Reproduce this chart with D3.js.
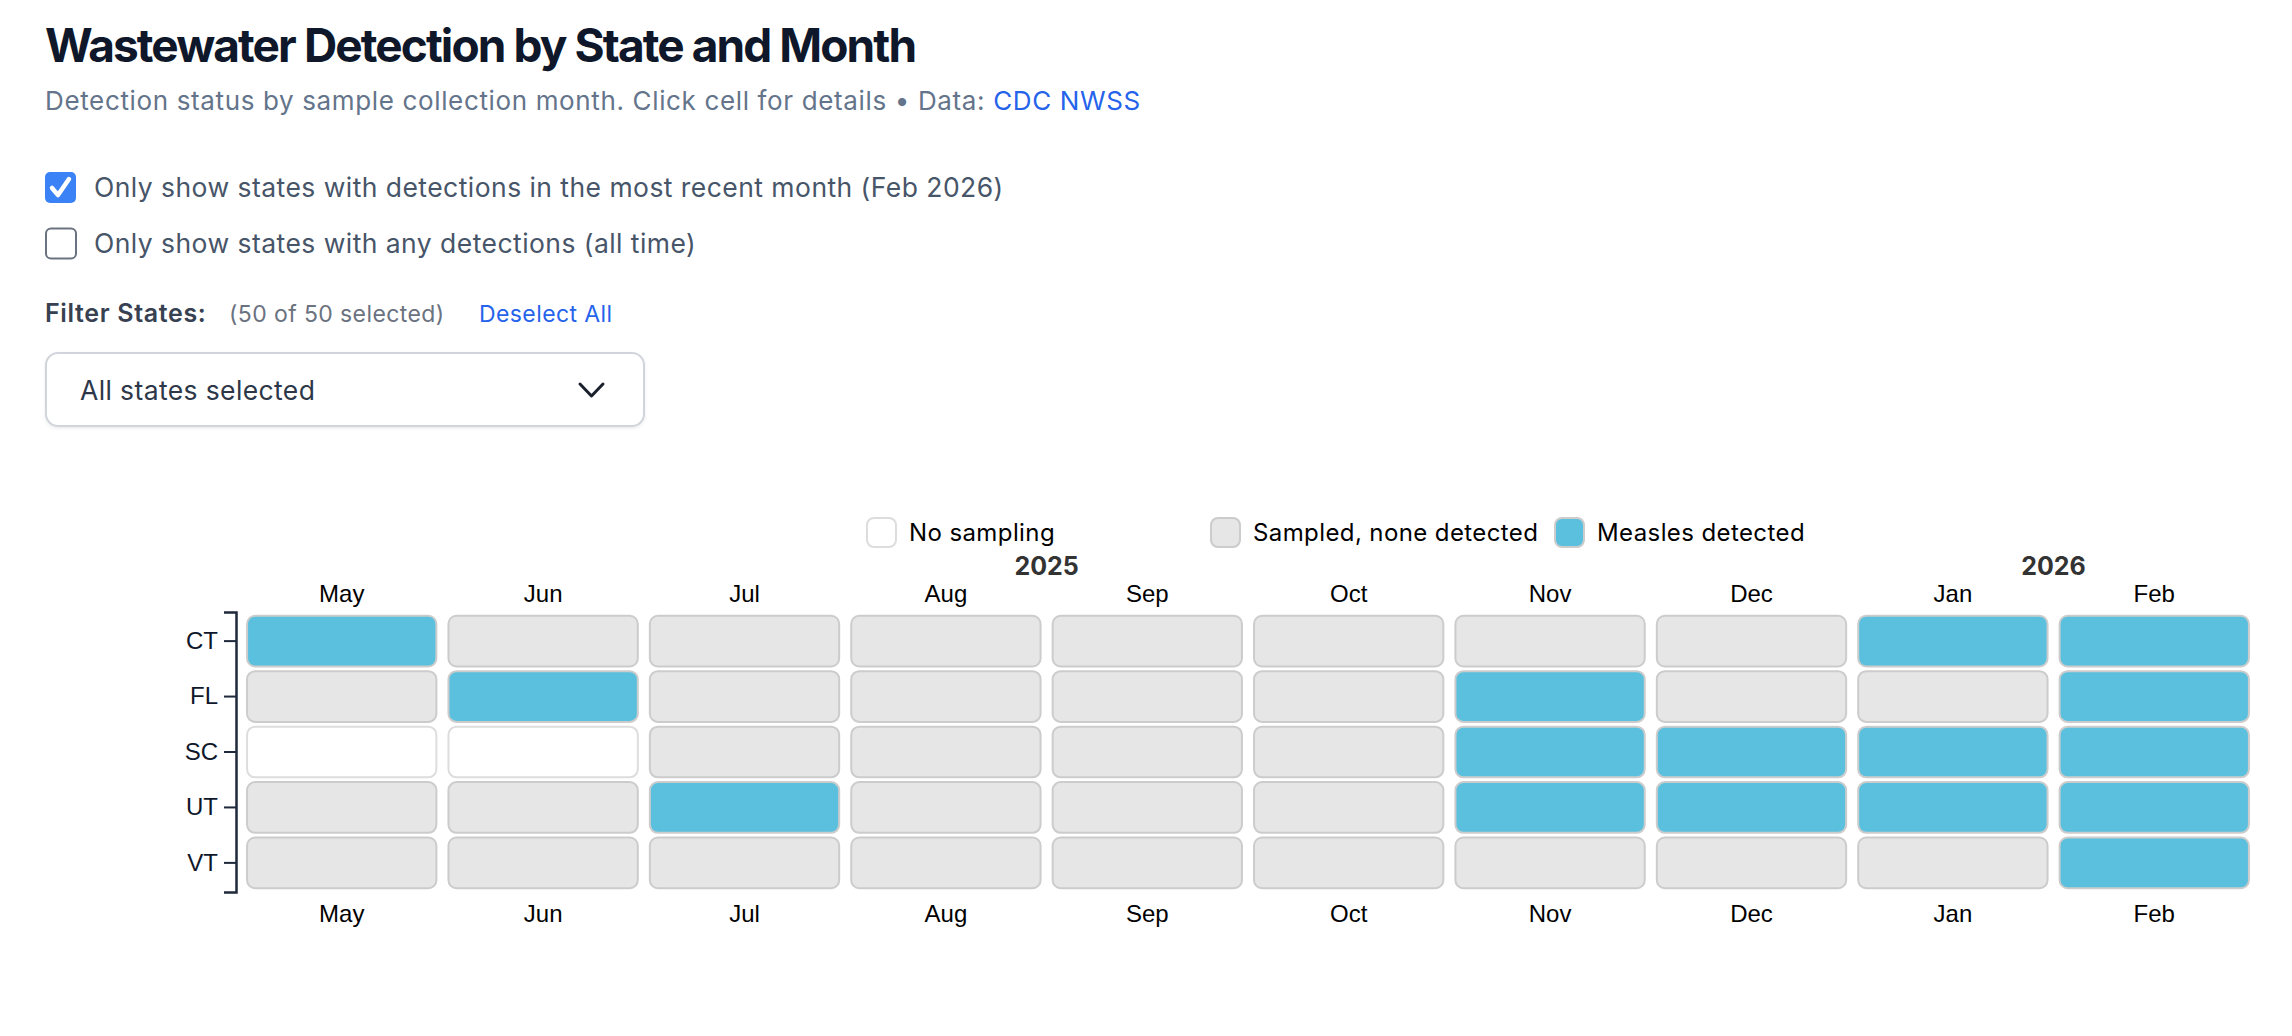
<!DOCTYPE html>
<html>
<head>
<meta charset="utf-8">
<script src="https://cdn.jsdelivr.net/npm/d3@7"></script>
<style>
  html, body { margin: 0; padding: 0; background: #ffffff; }
  svg { display: block; }
</style>
</head>
<body>
<svg id="page" width="2292" height="1036"></svg>
<script>
// ---------- data ----------
const states = ["CT", "FL", "SC", "UT", "VT"];
const months = ["May", "Jun", "Jul", "Aug", "Sep", "Oct", "Nov", "Dec", "Jan", "Feb"];
const monthYears = [2025, 2025, 2025, 2025, 2025, 2025, 2025, 2025, 2026, 2026];
// 0 = no sampling, 1 = sampled, none detected, 2 = measles detected
const statusCT = [2, 1, 1, 1, 1, 1, 1, 1, 2, 2];
const statusFL = [1, 2, 1, 1, 1, 1, 2, 1, 1, 2];
const statusSC = [0, 0, 1, 1, 1, 1, 2, 2, 2, 2];
const statusUT = [1, 1, 2, 1, 1, 1, 2, 2, 2, 2];
const statusVT = [1, 1, 1, 1, 1, 1, 1, 1, 1, 2];
const legendLabels = ["No sampling", "Sampled, none detected", "Measles detected"];

const statusByState = { CT: statusCT, FL: statusFL, SC: statusSC, UT: statusUT, VT: statusVT };
const cells = [];
states.forEach(s => months.forEach((m, i) => cells.push({ state: s, key: i, month: m, status: statusByState[s][i] })));

const fillFor = ["#ffffff", "#e6e6e6", "#5bc0de"];
const strokeFor = ["#dddddd", "#cccccc", "#cccccc"];

const svg = d3.select("#page");
const UI = "Inter, 'Noto Sans', sans-serif";
const CH = "'Liberation Sans', Arial, Helvetica, sans-serif";

// ---------- header ----------
svg.append("text").attr("x", 45).attr("y", 62)
  .attr("font-family", UI).attr("font-weight", 700).attr("font-size", 46)
  .attr("letter-spacing", "-1.9px").attr("fill", "#0f172a")
  .text("Wastewater Detection by State and Month");

const sub = svg.append("text").attr("x", 45).attr("y", 110)
  .attr("font-family", UI).attr("font-size", 26).attr("letter-spacing", "0.64px").attr("fill", "#64748b");
sub.append("tspan").text("Detection status by sample collection month. Click cell for details \u2022 Data: ");
sub.append("tspan").attr("fill", "#2563eb").text("CDC NWSS");

// checkboxes
svg.append("rect").attr("x", 45).attr("y", 172).attr("width", 31).attr("height", 31).attr("rx", 5)
  .attr("fill", "#3b82f6");
svg.append("path").attr("d", "M52,188 L58,195 L69,179").attr("fill", "none")
  .attr("stroke", "#ffffff").attr("stroke-width", 4.5).attr("stroke-linecap", "round").attr("stroke-linejoin", "round");
svg.append("text").attr("x", 94).attr("y", 197)
  .attr("font-family", UI).attr("font-size", 26.5).attr("letter-spacing", "0.45px").attr("fill", "#475569")
  .text("Only show states with detections in the most recent month (Feb 2026)");

svg.append("rect").attr("x", 46).attr("y", 228.5).attr("width", 30).attr("height", 30).attr("rx", 5)
  .attr("fill", "#ffffff").attr("stroke", "#6b7280").attr("stroke-width", 2);
svg.append("text").attr("x", 94).attr("y", 253)
  .attr("font-family", UI).attr("font-size", 26.5).attr("letter-spacing", "0.45px").attr("fill", "#475569")
  .text("Only show states with any detections (all time)");

// filter label
svg.append("text").attr("x", 45).attr("y", 322)
  .attr("font-family", UI).attr("font-weight", 600).attr("font-size", 25).attr("letter-spacing", "0.65px").attr("fill", "#374151")
  .text("Filter States:");
svg.append("text").attr("x", 229).attr("y", 322)
  .attr("font-family", UI).attr("font-size", 23).attr("letter-spacing", "0.4px").attr("fill", "#6b7280")
  .text("(50 of 50 selected)");
svg.append("text").attr("x", 479).attr("y", 322)
  .attr("font-family", UI).attr("font-size", 23).attr("letter-spacing", "0.4px").attr("fill", "#2563eb")
  .text("Deselect All");

// dropdown
const defs = svg.append("defs");
const f = defs.append("filter").attr("id", "sh").attr("x", "-5%").attr("y", "-20%").attr("width", "110%").attr("height", "150%");
f.append("feDropShadow").attr("dx", 0).attr("dy", 1.5).attr("stdDeviation", 1.5).attr("flood-color", "#000").attr("flood-opacity", 0.08);
svg.append("rect").attr("x", 46).attr("y", 353).attr("width", 598).attr("height", 73).attr("rx", 12)
  .attr("fill", "#ffffff").attr("stroke", "#d1d5db").attr("stroke-width", 2).attr("filter", "url(#sh)");
svg.append("text").attr("x", 80).attr("y", 400)
  .attr("font-family", UI).attr("font-size", 26.5).attr("letter-spacing", "0.38px").attr("fill", "#2d3748")
  .text("All states selected");
svg.append("path").attr("d", "M580,384 L591.5,396 L603,384").attr("fill", "none")
  .attr("stroke", "#1a202c").attr("stroke-width", 3).attr("stroke-linecap", "round").attr("stroke-linejoin", "round");

// ---------- chart ----------
const plotLeft = 236, plotRight = 2260, plotTop = 612, plotBottom = 892;
const x = d3.scaleBand().domain(d3.range(months.length)).range([plotLeft, plotRight]).padding(0.05);
const y = d3.scaleBand().domain(states).range([plotTop, plotBottom]).padding(0.05);

const chart = svg.append("g");

chart.selectAll("rect.cell").data(cells).join("rect")
  .attr("class", "cell")
  .attr("x", d => x(d.key) + 1).attr("y", d => y(d.state) + 1)
  .attr("width", x.bandwidth() - 2).attr("height", y.bandwidth() - 2)
  .attr("rx", 8).attr("ry", 8)
  .attr("fill", d => fillFor[d.status])
  .attr("stroke", d => strokeFor[d.status]).attr("stroke-width", 2);

// y axis
const yAxis = chart.append("g").attr("transform", `translate(${plotLeft},0)`)
  .call(d3.axisLeft(y).tickSize(12).tickSizeOuter(12).tickPadding(6));
yAxis.select(".domain").attr("stroke", "#1e293b").attr("stroke-width", 2.5);
yAxis.selectAll(".tick line").attr("stroke", "#1e293b").attr("stroke-width", 2);
yAxis.selectAll(".tick text").attr("font-family", CH).attr("font-size", 24).attr("fill", "#0f172a");

// top & bottom month axes
const fmt = i => months[i];
const xTop = chart.append("g").attr("transform", `translate(0,${plotTop})`)
  .call(d3.axisTop(x).tickFormat(fmt).tickSize(0).tickPadding(10));
const xBot = chart.append("g").attr("transform", `translate(0,${plotBottom})`)
  .call(d3.axisBottom(x).tickFormat(fmt).tickSize(0).tickPadding(13));
[xTop, xBot].forEach(g => {
  g.select(".domain").remove();
  g.selectAll(".tick text").attr("font-family", CH).attr("font-size", 24).attr("fill", "#000");
});

// year labels centred over their months
const years = Array.from(new Set(monthYears));
years.forEach(yr => {
  const idx = d3.range(months.length).filter(i => monthYears[i] === yr);
  const x0 = x(idx[0]), x1 = x(idx[idx.length - 1]) + x.bandwidth();
  chart.append("text").attr("x", (x0 + x1) / 2).attr("y", 575)
    .attr("text-anchor", "middle").attr("font-family", UI).attr("font-weight", 700)
    .attr("font-size", 25).attr("fill", "#333333").text(yr);
});

// legend
const legend = chart.append("g").attr("transform", "translate(866,517)");
const li = legend.selectAll("g").data(legendLabels).join("g")
  .attr("transform", (d, i) => `translate(${i * 344},0)`);
li.append("rect").attr("x", 1).attr("y", 1).attr("width", 29).attr("height", 29).attr("rx", 7)
  .attr("fill", (d, i) => fillFor[i]).attr("stroke", (d, i) => strokeFor[i]).attr("stroke-width", 2);
li.append("text").attr("x", 43).attr("y", 24)
  .attr("font-family", UI).attr("font-size", 24).attr("letter-spacing", "0.4px").attr("fill", "#000").text(d => d);
</script>
</body>
</html>
